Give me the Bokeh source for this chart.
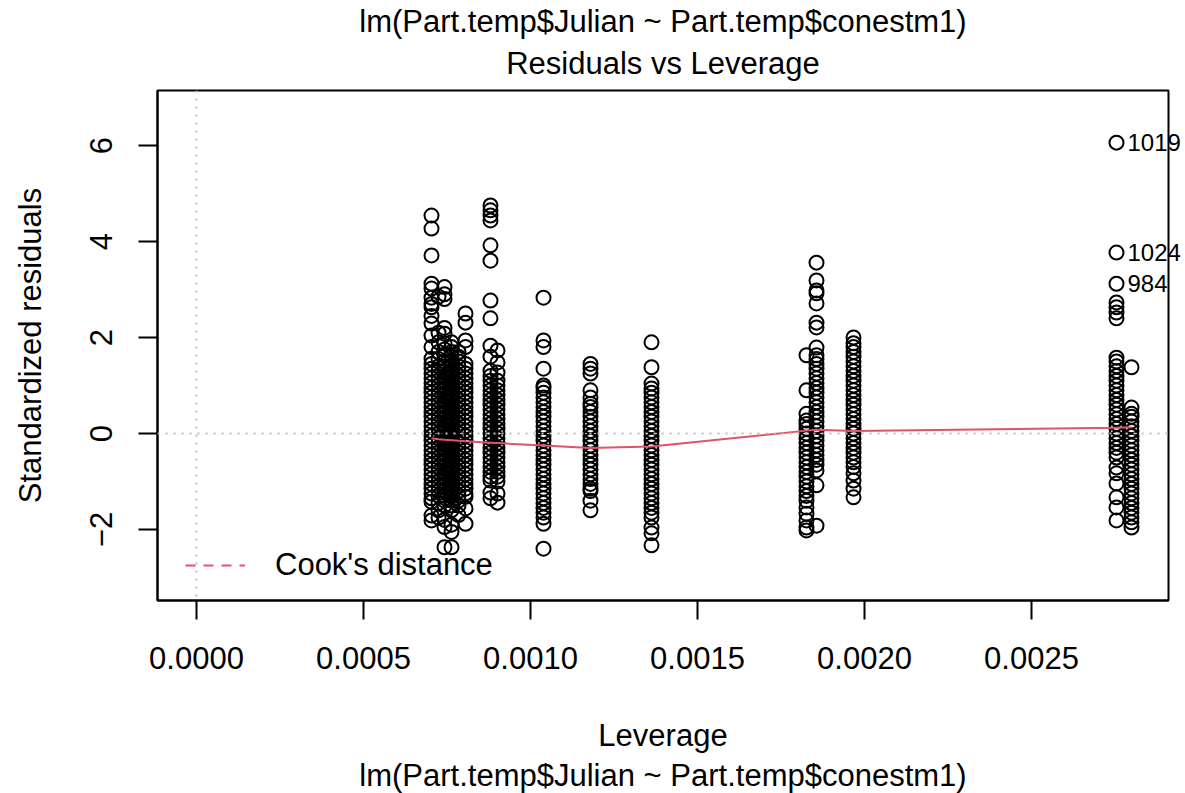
from bokeh.plotting import figure
from bokeh.models import (ColumnDataSource, Span, Legend, LegendItem, FixedTicker,
                          Title, LinearAxis, AllLabels, Range1d)
from bokeh.embed import file_html
from bokeh.resources import INLINE

FONT = "Liberation Sans"

# ---------------- data ----------------
leverage_levels = [0.0007036, 0.0007246, 0.0007425, 0.0007635, 0.0007844, 0.0008054,
                   0.0008802, 0.0009012, 0.0010389, 0.0011796, 0.0013623,
                   0.0018263, 0.0018563, 0.0019671, 0.0027545, 0.0027994]

resid_0 = [4.54, 4.27, 3.71, 3.12, 3.02, 2.83, 2.70, 2.63, 2.45, 2.29, 2.04, 1.80, 1.56,
           1.45, 1.35, 1.25, 1.15, 1.05, 0.95, 0.85, 0.75, 0.65, 0.55, 0.45, 0.35, 0.25,
           0.15, 0.05, -0.05, -0.15, -0.25, -0.35, -0.45, -0.55, -0.65, -0.75, -0.85,
           -0.95, -1.05, -1.15, -1.25, -1.35, -1.42, -1.71, -1.81]
resid_1 = [2.85, 2.10, 1.90, 1.70, 1.55, 1.40, 1.30, 1.20, 1.10, 1.00, 0.90, 0.80, 0.70,
           0.60, 0.50, 0.40, 0.30, 0.20, 0.10, 0.00, -0.10, -0.20, -0.30, -0.40, -0.50,
           -0.60, -0.70, -0.80, -0.90, -1.00, -1.10, -1.20, -1.30, -1.45, -1.60, -1.75]
resid_2 = [3.05, 2.90, 2.80, 2.20, 2.08, 1.88, 1.75, 1.62, 1.50, 1.40, 1.30, 1.20, 1.10,
           1.00, 0.90, 0.80, 0.70, 0.60, 0.50, 0.40, 0.30, 0.20, 0.10, 0.00, -0.10, -0.20,
           -0.30, -0.40, -0.50, -0.60, -0.70, -0.80, -0.90, -1.00, -1.10, -1.20, -1.30,
           -1.40, -1.50, -1.80, -1.95, -2.37]
resid_3 = [1.90, 1.80, 1.70, 1.60, 1.50, 1.40, 1.30, 1.20, 1.10, 1.00, 0.90, 0.80, 0.70,
           0.60, 0.50, 0.40, 0.30, 0.20, 0.10, 0.00, -0.10, -0.20, -0.30, -0.40, -0.50,
           -0.60, -0.70, -0.80, -0.90, -1.00, -1.10, -1.20, -1.30, -1.40, -1.50, -1.60,
           -1.90, -2.05, -2.37]
resid_4 = [1.70, 1.60, 1.50, 1.40, 1.30, 1.20, 1.10, 1.00, 0.90, 0.80, 0.70, 0.60, 0.50,
           0.40, 0.30, 0.20, 0.10, 0.00, -0.10, -0.20, -0.30, -0.40, -0.50, -0.60, -0.70,
           -0.80, -0.90, -1.00, -1.10, -1.20, -1.30, -1.40, -1.50, -1.70]
resid_5 = [2.50, 2.31, 1.94, 1.80, 1.45, 1.35, 1.25, 1.15, 1.05, 0.95, 0.85, 0.75, 0.65,
           0.55, 0.45, 0.35, 0.25, 0.15, 0.05, -0.05, -0.15, -0.25, -0.35, -0.45, -0.55,
           -0.65, -0.75, -0.85, -0.95, -1.05, -1.15, -1.25, -1.32, -1.56, -1.88]
resid_6 = [4.75, 4.65, 4.54, 4.44, 3.92, 3.60, 2.77, 2.40, 1.83, 1.60, 1.31, 1.20, 1.10,
           1.00, 0.90, 0.80, 0.70, 0.60, 0.50, 0.40, 0.30, 0.20, 0.10, 0.00, -0.10, -0.20,
           -0.30, -0.40, -0.50, -0.60, -0.70, -0.80, -0.90, -0.98, -1.23, -1.35]
resid_7 = [1.73, 1.48, 1.27, 1.10, 1.00, 0.90, 0.80, 0.70, 0.60, 0.50, 0.40, 0.30, 0.20,
           0.10, 0.00, -0.10, -0.20, -0.30, -0.40, -0.50, -0.60, -0.70, -0.80, -0.90,
           -1.00, -1.25, -1.44]
resid_8 = [2.83, 1.94, 1.80, 1.35, 1.00, 0.95, 0.85, 0.75, 0.65, 0.55, 0.45, 0.35, 0.25,
           0.15, 0.05, -0.05, -0.15, -0.25, -0.35, -0.45, -0.55, -0.65, -0.75, -0.85,
           -0.95, -1.05, -1.15, -1.25, -1.35, -1.45, -1.55, -1.65, -1.75, -1.88, -2.40]
resid_9 = [1.45, 1.35, 1.25, 0.90, 0.75, 0.62, 0.55, 0.45, 0.35, 0.25, 0.15, 0.05,
           -0.05, -0.15, -0.25, -0.35, -0.45, -0.55, -0.65, -0.75, -0.85, -0.95, -1.05,
           -1.15, -1.20, -1.40, -1.60]
resid_10 = [1.90, 1.38, 1.04, 0.94, 0.85, 0.75, 0.65, 0.55, 0.45, 0.35, 0.25, 0.15,
            0.05, -0.05, -0.15, -0.25, -0.35, -0.45, -0.55, -0.65, -0.75, -0.85, -0.95,
            -1.05, -1.15, -1.25, -1.35, -1.45, -1.55, -1.65, -1.75, -1.96, -2.08, -2.33]
resid_11 = [1.63, 0.90, 0.41, 0.27, 0.20, 0.10, 0.00, -0.10, -0.20, -0.30, -0.40,
            -0.50, -0.60, -0.70, -0.80, -0.90, -1.00, -1.10, -1.20, -1.30, -1.40, -1.54,
            -1.67, -1.81, -1.96, -2.02]
resid_12 = [3.56, 3.19, 2.98, 2.92, 2.71, 2.31, 2.21, 1.79, 1.63, 1.55, 1.45, 1.35,
            1.25, 1.15, 1.05, 0.95, 0.85, 0.75, 0.65, 0.55, 0.45, 0.35, 0.25, 0.15, 0.05,
            -0.05, -0.15, -0.25, -0.35, -0.45, -0.55, -0.65, -0.77, -1.08, -1.92]
resid_13 = [2.00, 1.88, 1.80, 1.70, 1.60, 1.50, 1.40, 1.30, 1.20, 1.10, 1.00, 0.90,
            0.80, 0.70, 0.60, 0.50, 0.40, 0.30, 0.20, 0.10, 0.00, -0.10, -0.20, -0.30,
            -0.40, -0.50, -0.60, -0.70, -0.83, -0.98, -1.15, -1.33]
resid_14 = [6.06, 3.77, 3.12, 2.73, 2.63, 2.52, 2.40, 1.58, 1.50, 1.40, 1.30, 1.20,
            1.10, 1.00, 0.90, 0.80, 0.70, 0.60, 0.50, 0.40, 0.30, 0.20, 0.10, 0.00,
            -0.10, -0.20, -0.30, -0.40, -0.50, -0.71, -0.83, -1.04, -1.33, -1.54, -1.81]
resid_15 = [1.38, 0.54, 0.41, 0.35, 0.25, 0.15, 0.05, -0.05, -0.15, -0.25, -0.35,
            -0.45, -0.55, -0.65, -0.75, -0.85, -0.95, -1.05, -1.15, -1.25, -1.35, -1.45,
            -1.55, -1.65, -1.75, -1.85, -1.96]

cluster_residuals = [resid_0, resid_1, resid_2, resid_3, resid_4, resid_5, resid_6,
                     resid_7, resid_8, resid_9, resid_10, resid_11, resid_12, resid_13,
                     resid_14, resid_15]

# loess smoother (red) evaluated at each leverage level
smooth_resid = [-0.10, -0.12, -0.13, -0.14, -0.15, -0.16, -0.19, -0.20, -0.25, -0.30,
                -0.27, 0.06, 0.08, 0.05, 0.12, 0.13]

# labelled extreme observations (all at leverage 0.0027545)
label_ids = ["1019", "1024", "984"]
label_res = [6.06, 3.77, 3.12]

x_ticks = [0.0, 0.0005, 0.001, 0.0015, 0.002, 0.0025]
x_tick_labels = ["0.0000", "0.0005", "0.0010", "0.0015", "0.0020", "0.0025"]
y_ticks = [-2, 0, 2, 4, 6]
y_tick_labels = ["\u22122", "0", "2", "4", "6"]

main_title = "lm(Part.temp$Julian ~ Part.temp$conestm1)"
caption = "Residuals vs Leverage"
x_label = "Leverage"
y_label = "Standardized residuals"
legend_label = "Cook's distance"

# ---------------- build the table ----------------
xs, ys = [], []
for lev, res in zip(leverage_levels, cluster_residuals):
    xs.extend([lev] * len(res))
    ys.extend(res)
pts = ColumnDataSource(dict(x=xs, y=ys))

# ---------------- figure ----------------
p = figure(width=1185, height=793, output_backend="svg", toolbar_location=None,
           x_range=Range1d(-0.0001168, 0.0029102), y_range=Range1d(-3.479, 7.146),
           min_border_left=157, min_border_right=17, min_border_top=90,
           min_border_bottom=193, background_fill_color="white",
           border_fill_color="white", outline_line_color="black",
           outline_line_width=2)
p.grid.visible = False

# reference lines (dotted grey)
p.add_layout(Span(location=0, dimension="width", line_color="#BEBEBE",
                  line_dash="2 6", line_width=2))
p.add_layout(Span(location=0, dimension="height", line_color="#BEBEBE",
                  line_dash="2 6", line_width=2))

p.scatter("x", "y", source=pts, marker="circle", size=14, fill_color=None,
          line_color="black", line_width=2)

p.line(leverage_levels, smooth_resid, line_color="#DF536B", line_width=2)

# legend (Cook's distance contour is outside the plotted range)
cook = p.line([-1.0, -0.9], [-100.0, -100.0], line_color="#DF536B",
              line_dash="10 8", line_width=2)
leg = Legend(items=[LegendItem(label=legend_label, renderers=[cook])],
             location=(28, 17), glyph_width=60, glyph_height=30, label_standoff=30,
             padding=0, margin=0, border_line_alpha=0, background_fill_alpha=0,
             label_text_font=FONT, label_text_font_size="31px",
             label_text_color="black")
p.add_layout(leg)

# axes
for ax in (p.xaxis[0], p.yaxis[0]):
    ax.axis_line_color = "black"
    ax.axis_line_width = 2
    ax.major_tick_line_color = "black"
    ax.major_tick_line_width = 2
    ax.major_tick_out = 19
    ax.major_tick_in = 0
    ax.minor_tick_line_color = None
    ax.major_label_text_font = FONT
    ax.major_label_text_font_size = "31px"
    ax.major_label_text_color = "black"
    ax.axis_label_text_font = FONT
    ax.axis_label_text_font_size = "31px"
    ax.axis_label_text_font_style = "normal"
    ax.axis_label_text_color = "black"

p.xaxis.ticker = FixedTicker(ticks=x_ticks)
p.xaxis.major_label_overrides = dict(zip(x_ticks, x_tick_labels))
p.xaxis.major_label_standoff = 27
p.xaxis.axis_label = x_label
p.xaxis.axis_label_standoff = 46

p.yaxis.ticker = FixedTicker(ticks=y_ticks)
p.yaxis.major_label_overrides = dict(zip(y_ticks, y_tick_labels))
p.yaxis.major_label_orientation = "vertical"
p.yaxis.major_label_standoff = 26
p.yaxis.axis_label = y_label
p.yaxis.axis_label_standoff = 40

# observation labels next to the extreme points; drawn from the right-hand
# guide so that they are not clipped by the plot box (as in R)
id_axis = LinearAxis(ticker=FixedTicker(ticks=label_res),
                     major_label_overrides=dict(zip(label_res, label_ids)),
                     major_label_policy=AllLabels(),
                     axis_line_color=None, major_tick_line_color=None,
                     minor_tick_line_color=None, major_tick_out=0, major_tick_in=0,
                     major_label_standoff=-41, major_label_orientation="horizontal",
                     major_label_text_font=FONT, major_label_text_font_size="24px",
                     major_label_text_color="black")
p.add_layout(id_axis, "right")

# titles: outer = model call, inner = caption
p.title.text = main_title
p.title.align = "center"
p.title.text_font = FONT
p.title.text_font_size = "31px"
p.title.text_font_style = "normal"
p.title.text_color = "black"
p.title.standoff = 0

cap = Title(text=caption, align="center", vertical_align="top", text_font=FONT,
            text_font_size="31px", text_font_style="normal", text_color="black",
            standoff=15)
p.add_layout(cap, "above")

bottom = Title(text=main_title, align="center", text_font=FONT, text_font_size="31px",
               text_font_style="normal", text_color="black", standoff=0)
p.add_layout(bottom, "below")

open("out.html", "w").write(file_html(p, INLINE))
